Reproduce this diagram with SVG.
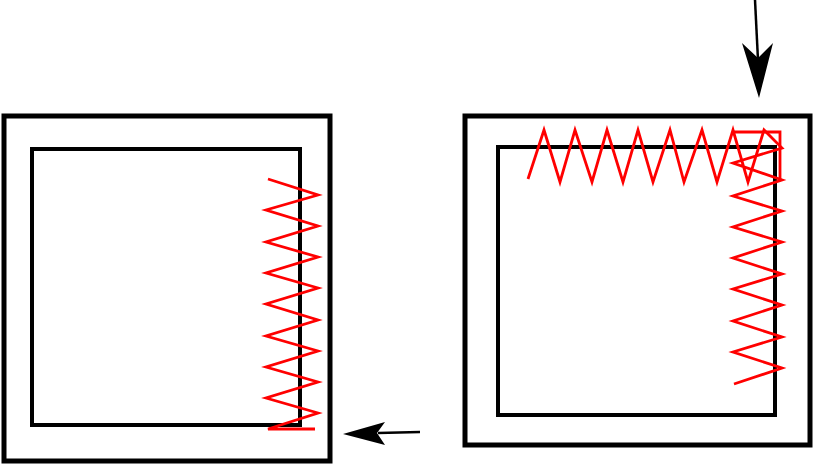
<svg xmlns="http://www.w3.org/2000/svg" width="813" height="464" viewBox="0 0 813 464">
<style>
.outer{fill:none;stroke:#000;stroke-width:5}
.inner{fill:none;stroke:#000;stroke-width:4}
.red{fill:none;stroke:#f00;stroke-width:2.8;stroke-linejoin:miter}
.conn{stroke:#000;stroke-width:2.5;fill:none}
.head{fill:#000;stroke:none}
</style>
<rect width="813" height="464" fill="#fff"/>
<g id="left-frame">
<rect class="outer" x="4" y="116" width="326" height="345"/>
<rect class="inner" x="32" y="149" width="268" height="276"/>
<polyline class="red" points="268,179 318,195 266,210 318,226 266,242 318,257 266,273 318,288 266,304 318,320 266,336 318,351 266,367 318,382 266,398 318,413 268,429 315,429"/>
</g>
<g id="right-frame">
<rect class="outer" x="465" y="116" width="345" height="329"/>
<rect class="inner" x="498" y="147" width="277" height="268"/>
<polyline class="red" points="528,179 544,130 560,182 575,130 592,182 607,130 623,182 638,130 653,182 670,130 684,182 702,130 717,182 733,130 748,182 764,130 782,148 733,163 782,180 733,196 782,211 733,227 782,242 733,258 782,274 733,289 782,305 733,321 782,337 733,352 782,368 734,384"/>
<polyline class="red" points="733,132 780,132 780,180"/>
</g>
<g id="connectors">
<line class="conn" x1="755" y1="0" x2="758" y2="60"/>
<polygon class="head" points="759,98 742,43 758,58 773,43"/>
<line class="conn" x1="420" y1="432" x2="378" y2="433"/>
<polygon class="head" points="343,434 385,422 377,433 385,445"/>
</g>
</svg>
